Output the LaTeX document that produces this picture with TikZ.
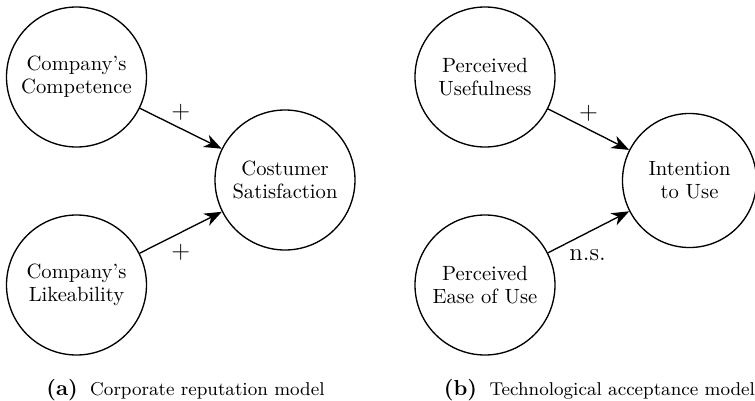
\documentclass[tikz,border=0pt]{standalone}
\usetikzlibrary{arrows.meta}
\begin{document}
\begin{tikzpicture}[x=0.485pt,y=-0.485pt,
  every node/.style={inner sep=0pt},
  var/.style={circle, draw, line width=0.65pt, minimum size=67.9pt, align=center, font=\fontsize{10}{11}\selectfont},
  conn/.style={line width=0.65pt, -{Stealth[length=8.5pt,width=6.5pt,inset=2.6pt]}},
  lbl/.style={font=\large},
  captxt/.style={anchor=base},
  capnum/.style={font=\fontsize{10.5}{12}\selectfont\bfseries}]
\useasboundingbox (0,0) rectangle (755,401);
\clip (0,0) rectangle (755,401);
\node[var] (cc) at (76.5,77) {Company's\\Competence};
\node[var] (cl) at (76.5,285) {Company's\\Likeability};
\node[var] (cs) at (285,180) {Costumer\\Satisfaction};
\node[var] (pu) at (485,77) {Perceived\\Usefulness};
\node[var] (pe) at (485,285) {Perceived\\Ease of Use};
\node[var, minimum size=65pt] (iu) at (689.5,180.5) {Intention\\to Use};
\draw[conn] (cc) -- node[lbl, yshift=7.8pt] (l1) {$+$} (cs);
\draw[conn] (cl) -- node[lbl, yshift=-9.7pt] (l2) {$+$} (cs);
\draw[conn] (pu) -- node[lbl, yshift=7.8pt] (l3) {$+$} (iu);
\draw[conn] (pe) -- node[lbl, xshift=-0.5pt, yshift=-11.4pt] (l4) {n.s.} (iu);
\node[captxt] (capa) at (185.5,395) {{\fontsize{10.5}{12}\selectfont\bfseries (a)}\hspace{6pt}{\small Corporate reputation model}};
\node[captxt] (capb) at (599.5,395) {{\fontsize{10.5}{12}\selectfont\bfseries (b)}\hspace{6pt}{\small Technological acceptance model}};
\end{tikzpicture}
\end{document}
